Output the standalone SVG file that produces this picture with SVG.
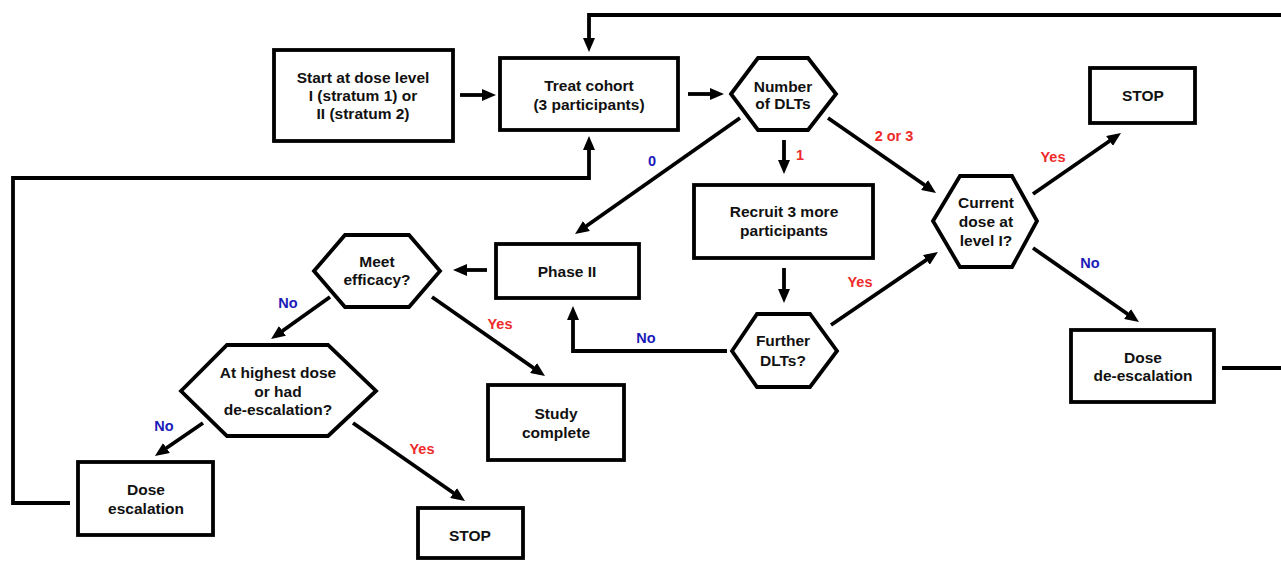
<svg xmlns="http://www.w3.org/2000/svg" width="1281" height="561" viewBox="0 0 1281 561">
<style>
.box{fill:#fff;stroke:#000;stroke-width:3.8}
.ln{fill:none;stroke:#000;stroke-width:3.8}
.t{font-family:"Liberation Sans",Arial,sans-serif;font-weight:bold;font-size:15.5px;fill:#111;text-anchor:middle}
.r{font-family:"Liberation Sans",Arial,sans-serif;font-weight:bold;font-size:14.5px;fill:#ee2a2a;text-anchor:middle}
.b{font-family:"Liberation Sans",Arial,sans-serif;font-weight:bold;font-size:14.5px;fill:#1a1ab8;text-anchor:middle}
</style>
<defs>
<marker id="ah" markerUnits="userSpaceOnUse" markerWidth="14" markerHeight="12" refX="4" refY="6" orient="auto">
<path d="M0,0 L14,6 L0,12 z" fill="#000"/>
</marker>
</defs>
<rect width="1281" height="561" fill="#fff"/>
<g id="connectors">
<path class="ln" d="M460,95 H486" marker-end="url(#ah)"/>
<path class="ln" d="M688,94 H714" marker-end="url(#ah)"/>
<path class="ln" d="M1281,15 H589 V42" marker-end="url(#ah)"/>
<path class="ln" d="M70,503 H13 V178 H589 V146" marker-end="url(#ah)"/>
<path class="ln" d="M784,140 V164" marker-end="url(#ah)"/>
<path class="ln" d="M828,118 L927.8,187.3" marker-end="url(#ah)"/>
<path class="ln" d="M740,118 L583.2,228.3" marker-end="url(#ah)"/>
<path class="ln" d="M1033,194 L1112.8,138.7" marker-end="url(#ah)"/>
<path class="ln" d="M1033,248 L1130.8,316.3" marker-end="url(#ah)"/>
<path class="ln" d="M1222,368 H1281"/>
<path class="ln" d="M784,268 V293" marker-end="url(#ah)"/>
<path class="ln" d="M831,325 L929.7,257.6" marker-end="url(#ah)"/>
<path class="ln" d="M727,351 H573 V316" marker-end="url(#ah)"/>
<path class="ln" d="M487,270 H463" marker-end="url(#ah)"/>
<path class="ln" d="M432,297 L536.8,370.3" marker-end="url(#ah)"/>
<path class="ln" d="M330,297 L279.2,333.2" marker-end="url(#ah)"/>
<path class="ln" d="M203,423 L163.2,450.3" marker-end="url(#ah)"/>
<path class="ln" d="M353,423 L456.8,495.3" marker-end="url(#ah)"/>
<text class="b" x="652" y="166">0</text>
<text class="r" x="800" y="160">1</text>
<text class="r" x="894" y="141">2 or 3</text>
<text class="r" x="1053" y="162">Yes</text>
<text class="b" x="1090" y="268">No</text>
<text class="r" x="860" y="287">Yes</text>
<text class="b" x="646" y="343">No</text>
<text class="r" x="500" y="329">Yes</text>
<text class="b" x="288" y="308">No</text>
<text class="b" x="164" y="431">No</text>
<text class="r" x="422" y="454">Yes</text>
</g>
<g id="start">
<rect class="box" x="274" y="50" width="179" height="91"/>
<text class="t" x="363" y="83">Start at dose level</text>
<text class="t" x="363" y="101">I (stratum 1) or</text>
<text class="t" x="363" y="119">II (stratum 2)</text>
</g>
<g id="treat">
<rect class="box" x="500" y="58" width="178" height="72"/>
<text class="t" x="589" y="91">Treat cohort</text>
<text class="t" x="589" y="110">(3 participants)</text>
</g>
<g id="number">
<polygon class="box" points="731,94 758,58 808,58 836,94 808,130 758,130"/>
<text class="t" x="783" y="92">Number</text>
<text class="t" x="783" y="109">of DLTs</text>
</g>
<g id="recruit">
<rect class="box" x="694" y="185" width="179" height="73"/>
<text class="t" x="784" y="217">Recruit 3 more</text>
<text class="t" x="784" y="236">participants</text>
</g>
<g id="current">
<polygon class="box" points="933,221 960,176 1012,176 1037,221 1012,267 960,267"/>
<text class="t" x="986" y="208">Current</text>
<text class="t" x="986" y="227">dose at</text>
<text class="t" x="986" y="246">level I?</text>
</g>
<g id="stop1">
<rect class="box" x="1090" y="68" width="105" height="55"/>
<text class="t" x="1143" y="101">STOP</text>
</g>
<g id="deesc">
<rect class="box" x="1071" y="330" width="143" height="72"/>
<text class="t" x="1143" y="363">Dose</text>
<text class="t" x="1143" y="381">de-escalation</text>
</g>
<g id="further">
<polygon class="box" points="732,351 757,314 810,314 837,351 810,387 757,387"/>
<text class="t" x="783" y="346">Further</text>
<text class="t" x="783" y="366">DLTs?</text>
</g>
<g id="phase2">
<rect class="box" x="496" y="244" width="143" height="54"/>
<text class="t" x="567" y="277">Phase II</text>
</g>
<g id="efficacy">
<polygon class="box" points="314,271 345,235 409,235 440,271 409,307 345,307"/>
<text class="t" x="377" y="267">Meet</text>
<text class="t" x="377" y="285">efficacy?</text>
</g>
<g id="complete">
<rect class="box" x="488" y="385" width="136" height="75"/>
<text class="t" x="556" y="419">Study</text>
<text class="t" x="556" y="438">complete</text>
</g>
<g id="highest">
<polygon class="box" points="181,391 227,345 328,345 376,391 328,436 227,436"/>
<text class="t" x="278" y="378">At highest dose</text>
<text class="t" x="278" y="397">or had</text>
<text class="t" x="278" y="415">de-escalation?</text>
</g>
<g id="escalation">
<rect class="box" x="78" y="462" width="135" height="73"/>
<text class="t" x="146" y="495">Dose</text>
<text class="t" x="146" y="514">escalation</text>
</g>
<g id="stop2">
<rect class="box" x="418" y="508" width="105" height="50"/>
<text class="t" x="470" y="541">STOP</text>
</g>
</svg>
